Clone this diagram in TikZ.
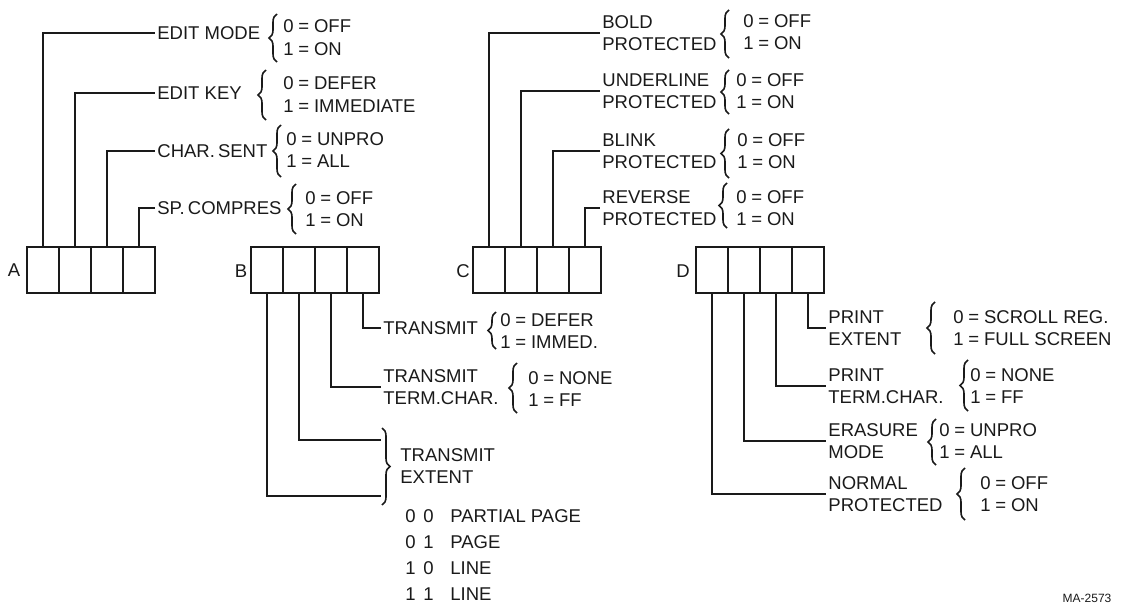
\documentclass[tikz,border=0pt]{standalone}
\usepackage{fontspec}
\setmainfont{Liberation Sans}
\usetikzlibrary{decorations.pathreplacing}
\definecolor{ink}{HTML}{1A1A1A}
\newcommand{\myeq}{\hspace{0.26em}=\hspace{0.26em}}
\begin{document}
\begin{tikzpicture}[x=0.5pt,y=-0.5pt,
  every node/.style={font=\fontsize{9.25}{11.25}\selectfont, text=ink},
  cell/.style={draw=ink, line width=1.4pt, minimum width=16pt, minimum height=23pt, inner sep=0pt},
  lbl/.style={anchor=west, align=left, inner xsep=1pt, inner ysep=0pt},
  val/.style={anchor=west, align=left, inner sep=0pt},
  row/.style={anchor=west, inner sep=0pt},
  regname/.style={anchor=center, inner sep=0pt},
  lead/.style={draw=ink, line width=1pt},
  brc/.style={draw=ink, line width=0.8pt, decorate, decoration={brace, amplitude=4pt}}]
\useasboundingbox[fill=white] (0,0) rectangle (1129,605);

% ---------- Register A ----------
\node[regname] (nA) at (14,270) {A};
\node[cell] (A1) at (43,270) {};
\node[cell] (A2) at (75,270) {};
\node[cell] (A3) at (107,270) {};
\node[cell] (A4) at (139,270) {};
\node[lbl] (lA1) at (155,33) {EDIT MODE};
\node[lbl] (lA2) at (155,93) {EDIT KEY};
\node[lbl] (lA3) at (155,151) {CHAR.\,SENT};
\node[lbl] (lA4) at (155,208) {SP.\,COMPRES};
\draw[lead] (A1.north) |- (lA1.west);
\draw[lead] (A2.north) |- (lA2.west);
\draw[lead] (A3.north) |- (lA3.west);
\draw[lead] (A4.north) |- (lA4.west);
\draw[brc] (277,62) -- (277,14);
\draw[brc] (266,120) -- (266,70);
\draw[brc] (281,177) -- (281,125);
\draw[brc] (296,234) -- (296,184);
\node[val] (vA1) at (283,37.5) {0\myeq OFF\\1\myeq ON};
\node[val] (vA2) at (283,94.5) {0\myeq DEFER\\1\myeq IMMEDIATE};
\node[val] (vA3) at (286,150) {0\myeq UNPRO\\1\myeq ALL};
\node[val] (vA4) at (305,209) {0\myeq OFF\\1\myeq ON};

% ---------- Register B ----------
\node[regname] (nB) at (241,271) {B};
\node[cell] (B1) at (267,270) {};
\node[cell] (B2) at (299,270) {};
\node[cell] (B3) at (331,270) {};
\node[cell] (B4) at (363,270) {};
\node[lbl] (lB4) at (381,328) {TRANSMIT};
\node[lbl] (lB3) at (381,387) {TRANSMIT\\TERM.CHAR.};
\coordinate (eB2) at (381,440);
\coordinate (eB1) at (381,496);
\draw[lead] (B4.south) |- (lB4.west);
\draw[lead] (B3.south) |- (lB3.west);
\draw[lead] (B2.south) |- (eB2);
\draw[lead] (B1.south) |- (eB1);
\draw[brc] (496,349) -- (496,312);
\draw[brc] (517,413) -- (517,363);
\draw[brc] (382,428) -- (382,505);
\node[val] (vB4) at (500,331) {0\myeq DEFER\\1\myeq IMMED.};
\node[val] (vB3) at (528,389) {0\myeq NONE\\1\myeq FF};
\node[val] (lB12) at (400,466) {TRANSMIT\\EXTENT};
\node[row] (t1) at (405,516) {\makebox[9pt][l]{0}\makebox[13.5pt][l]{0}PARTIAL PAGE};
\node[row] (t2) at (405,542) {\makebox[9pt][l]{0}\makebox[13.5pt][l]{1}PAGE};
\node[row] (t3) at (405,568) {\makebox[9pt][l]{1}\makebox[13.5pt][l]{0}LINE};
\node[row] (t4) at (405,594) {\makebox[9pt][l]{1}\makebox[13.5pt][l]{1}LINE};

% ---------- Register C ----------
\node[regname] (nC) at (463,271) {C};
\node[cell] (C1) at (489,270) {};
\node[cell] (C2) at (521,270) {};
\node[cell] (C3) at (553,270) {};
\node[cell] (C4) at (585,270) {};
\node[lbl] (lC1) at (600,33) {BOLD\\PROTECTED};
\node[lbl] (lC2) at (600,91) {UNDERLINE\\PROTECTED};
\node[lbl] (lC3) at (600,151) {BLINK\\PROTECTED};
\node[lbl] (lC4) at (600,208) {REVERSE\\PROTECTED};
\draw[lead] (C1.north) |- (lC1.west);
\draw[lead] (C2.north) |- (lC2.west);
\draw[lead] (C3.north) |- (lC3.west);
\draw[lead] (C4.north) |- (lC4.west);
\draw[brc] (729,58) -- (729,10);
\draw[brc] (729,114) -- (729,70);
\draw[brc] (729,178) -- (729,129);
\draw[brc] (727,228) -- (727,183);
\node[val] (vC1) at (743,32) {0\myeq OFF\\1\myeq ON};
\node[val] (vC2) at (736,91) {0\myeq OFF\\1\myeq ON};
\node[val] (vC3) at (737,151) {0\myeq OFF\\1\myeq ON};
\node[val] (vC4) at (736,208) {0\myeq OFF\\1\myeq ON};

% ---------- Register D ----------
\node[regname] (nD) at (683,271) {D};
\node[cell] (D1) at (712,270) {};
\node[cell] (D2) at (744,270) {};
\node[cell] (D3) at (776,270) {};
\node[cell] (D4) at (808,270) {};
\node[lbl] (lD4) at (826,328) {PRINT\\EXTENT};
\node[lbl] (lD3) at (826,386) {PRINT\\TERM.CHAR.};
\node[lbl] (lD2) at (826,441) {ERASURE\\MODE};
\node[lbl] (lD1) at (826,494) {NORMAL\\PROTECTED};
\draw[lead] (D4.south) |- (lD4.west);
\draw[lead] (D3.south) |- (lD3.west);
\draw[lead] (D2.south) |- (lD2.west);
\draw[lead] (D1.south) |- (lD1.west);
\draw[brc] (935,354) -- (935,302);
\draw[brc] (968,411) -- (968,360);
\draw[brc] (936,465) -- (936,419);
\draw[brc] (965,520) -- (965,468);
\node[val] (vD4) at (953,328) {0\myeq SCROLL REG.\\1\myeq FULL SCREEN};
\node[val] (vD3) at (970,386) {0\myeq NONE\\1\myeq FF};
\node[val] (vD2) at (939,441) {0\myeq UNPRO\\1\myeq ALL};
\node[val] (vD1) at (980,494) {0\myeq OFF\\1\myeq ON};

\node[font=\fontsize{6}{7}\selectfont, inner sep=0pt] (ma) at (1087,598) {MA-2573};
\end{tikzpicture}
\end{document}
